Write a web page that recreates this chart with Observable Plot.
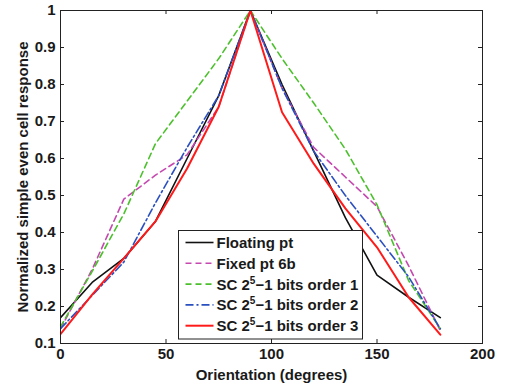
<!DOCTYPE html>
<html>
<head>
<meta charset="utf-8">
<script src="https://cdn.jsdelivr.net/npm/d3@7"></script>
<script src="https://cdn.jsdelivr.net/npm/@observablehq/plot@0.6"></script>
<style>
  html, body { margin: 0; padding: 0; background: #fff; }
  #chart svg { font-family: "Liberation Sans", Arial, sans-serif; font-weight: bold; }
</style>
</head>
<body>
<div id="chart"></div>
<script>
const angles = [0, 15, 30, 45, 60, 75, 90, 105, 120, 135, 150, 165, 180];
const floatingPt = [0.17, 0.265, 0.33, 0.43, 0.60, 0.77, 1, 0.80, 0.62, 0.44, 0.285, 0.225, 0.17];
const fixedPt6b = [0.14, 0.30, 0.49, 0.555, 0.61, 0.74, 1, 0.79, 0.63, 0.55, 0.47, 0.31, 0.135];
const scOrder1 = [0.145, 0.295, 0.45, 0.64, 0.755, 0.87, 1, 0.87, 0.75, 0.625, 0.475, 0.27, 0.14];
const scOrder2 = [0.14, 0.23, 0.32, 0.48, 0.63, 0.77, 1, 0.79, 0.62, 0.50, 0.39, 0.28, 0.14];
const scOrder3 = [0.125, 0.232, 0.33, 0.43, 0.573, 0.74, 1, 0.725, 0.586, 0.465, 0.36, 0.225, 0.124];

const seriesNames = ["Floating pt", "Fixed pt 6b", "SC 2^5\u22121 bits order 1", "SC 2^5\u22121 bits order 2", "SC 2^5\u22121 bits order 3"];
const seriesValues = [floatingPt, fixedPt6b, scOrder1, scOrder2, scOrder3];
const seriesColors = ["#111111", "#c548b0", "#4cc02c", "#2a4fc0", "#ff1a1a"];
const seriesDash = [null, "6,4", "6,4", "8,3,2,3", null];
const seriesWidth = [1.6, 1.6, 1.6, 1.6, 2];

const xTicks = [0, 50, 100, 150, 200];
const yTicks = [0.1, 0.2, 0.3, 0.4, 0.5, 0.6, 0.7, 0.8, 0.9, 1];

const W = 505, H = 384;
const mL = 60, mR = 23, mT = 10, mB = 41;
const pw = W - mL - mR, ph = H - mT - mB;

const rows = [];
seriesValues.forEach((vals, i) => vals.forEach((v, j) => rows.push({s: i, x: angles[j], y: v})));

const tk = 4;
const plot = Plot.plot({
  width: W, height: H,
  marginLeft: mL, marginRight: mR, marginTop: mT, marginBottom: mB,
  x: {domain: [0, 200]},
  y: {domain: [0.1, 1]},
  style: {fontSize: "15px", fontFamily: "Liberation Sans, Arial, sans-serif", fontWeight: "bold", color: "#1a1a1a"},
  marks: [
    Plot.axisX({ticks: xTicks, tickSize: 0, tickPadding: 5, tickFormat: d => String(d), label: "Orientation (degrees)", labelAnchor: "center", labelOffset: 36, labelArrow: "none"}),
    Plot.axisY({ticks: yTicks, tickSize: 0, tickPadding: 5, tickFormat: d => d === 1 ? "1" : d3.format(".1f")(d), label: "Normalized simple even cell response", labelAnchor: "center", labelOffset: 43, labelArrow: "none"}),
    Plot.tickX(xTicks.slice(1, -1), {x: d => d, insetTop: ph - tk, stroke: "#222"}),
    Plot.tickX(xTicks.slice(1, -1), {x: d => d, insetBottom: ph - tk, stroke: "#222"}),
    Plot.tickY(yTicks.slice(1, -1), {y: d => d, insetRight: pw - tk, stroke: "#222"}),
    Plot.tickY(yTicks.slice(1, -1), {y: d => d, insetLeft: pw - tk, stroke: "#222"}),
    ...seriesValues.map((vals, i) => Plot.line(rows.filter(r => r.s === i), {
      x: "x", y: "y", stroke: seriesColors[i], strokeWidth: seriesWidth[i],
      strokeDasharray: seriesDash[i], strokeLinejoin: "miter", clip: true
    })),
    Plot.frame({stroke: "#222", strokeWidth: 1})
  ]
});
document.getElementById("chart").appendChild(plot);

// Legend (inside the plot area, lower middle)
const svg = d3.select(plot);
const lx = 178.5, ly = 230.5, lw = 184, lh = 108.5;
const g = svg.append("g").attr("text-anchor", "start");
g.append("rect").attr("x", lx).attr("y", ly).attr("width", lw).attr("height", lh)
  .attr("fill", "#fff").attr("stroke", "#222").attr("stroke-width", 1);
seriesNames.forEach((name, i) => {
  const cy = ly + 12 + i * 20.8;
  g.append("line").attr("x1", lx + 7).attr("x2", lx + 35).attr("y1", cy).attr("y2", cy)
    .attr("stroke", seriesColors[i]).attr("stroke-width", seriesWidth[i])
    .attr("stroke-dasharray", seriesDash[i]);
  const t = g.append("text").attr("x", lx + 38).attr("y", cy).attr("dy", "0.36em")
    .attr("text-anchor", "start")
    .attr("font-size", 15).attr("font-weight", "bold").attr("fill", "#1a1a1a")
    .attr("font-family", "Liberation Sans, Arial, sans-serif");
  const parts = name.split("^");
  if (parts.length === 1) {
    t.text(name);
  } else {
    t.append("tspan").text(parts[0]);
    t.append("tspan").attr("font-size", 10).attr("dy", -6).text(parts[1][0]);
    t.append("tspan").attr("dy", 6).text(parts[1].slice(1));
  }
});
</script>
</body>
</html>
